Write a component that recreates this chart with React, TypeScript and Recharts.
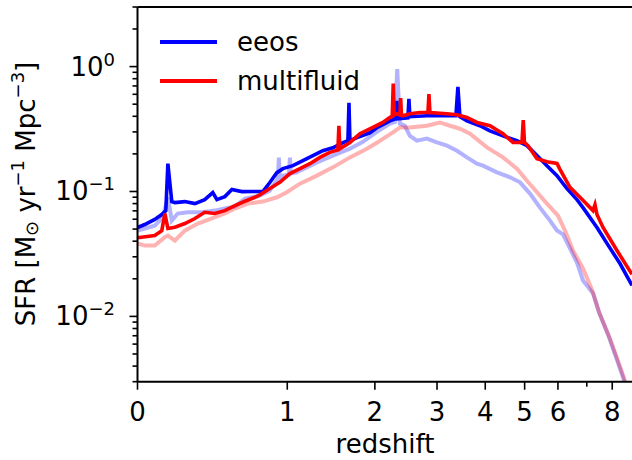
import React from "react";
import { LineChart, Line, XAxis, YAxis, ReferenceLine, Legend } from "recharts";

// redshift / SFR traces
const eeosRedshift = [0, 0.034, 0.083, 0.119, 0.14, 0.151, 0.172, 0.189, 0.245, 0.304, 0.365, 0.417, 0.444, 0.498, 0.548, 0.621, 0.722, 0.786, 0.845, 0.906, 0.96, 1.053, 1.19, 1.294, 1.358, 1.47, 1.588, 1.648, 1.661, 1.673, 1.761, 1.932, 2.028, 2.217, 2.307, 2.322, 2.338, 2.496, 2.512, 2.528, 2.817, 3.11, 3.365, 3.406, 3.447, 3.594, 3.878, 4.11, 4.428, 4.79, 5.065, 5.353, 5.653, 5.969, 6.299, 6.645, 6.861, 7.386, 7.783, 8.328, 8.862];
const eeosSfr = [0.0515, 0.0544, 0.0597, 0.0654, 0.0703, 0.167, 0.083, 0.0815, 0.083, 0.08, 0.0861, 0.098, 0.0861, 0.091, 0.1036, 0.0998, 0.1, 0.0998, 0.118, 0.1416, 0.1524, 0.161, 0.183, 0.201, 0.212, 0.224, 0.246, 0.255, 0.513, 0.255, 0.27, 0.295, 0.324, 0.368, 0.382, 0.532, 0.382, 0.389, 0.552, 0.397, 0.404, 0.404, 0.404, 0.689, 0.397, 0.368, 0.336, 0.306, 0.279, 0.255, 0.233, 0.194, 0.161, 0.134, 0.1055, 0.0861, 0.0743, 0.0515, 0.0384, 0.0265, 0.0177];

const multifluidRedshift = [0, 0.083, 0.119, 0.135, 0.151, 0.189, 0.245, 0.304, 0.365, 0.43, 0.498, 0.569, 0.644, 0.722, 0.762, 0.845, 0.932, 1.025, 1.121, 1.221, 1.326, 1.436, 1.528, 1.54, 1.551, 1.673, 1.799, 1.972, 2.113, 2.217, 2.251, 2.266, 2.281, 2.322, 2.368, 2.38, 2.393, 2.416, 2.528, 2.696, 2.835, 2.853, 2.871, 3.188, 3.386, 3.594, 3.812, 4.11, 4.428, 4.685, 4.926, 4.962, 4.995, 5.093, 5.353, 5.653, 5.969, 6.053, 6.401, 6.752, 7.232, 7.309, 7.386, 7.625, 8.199, 8.862];
const multifluidSfr = [0.0426, 0.0445, 0.0486, 0.0666, 0.0506, 0.0518, 0.0554, 0.0608, 0.0682, 0.0666, 0.0703, 0.0771, 0.0835, 0.0899, 0.094, 0.1055, 0.1184, 0.139, 0.1524, 0.167, 0.1875, 0.2056, 0.215, 0.336, 0.22, 0.247, 0.29, 0.326, 0.357, 0.392, 0.4, 0.731, 0.41, 0.419, 0.41, 0.56, 0.41, 0.404, 0.419, 0.429, 0.429, 0.602, 0.429, 0.419, 0.411, 0.392, 0.357, 0.336, 0.29, 0.247, 0.247, 0.373, 0.247, 0.233, 0.183, 0.173, 0.168, 0.1524, 0.108, 0.0899, 0.0703, 0.0785, 0.0654, 0.0515, 0.0337, 0.0217];

// faded runs (no legend entry)
const eeosFadedRedshift = [0, 0.083, 0.124, 0.151, 0.172, 0.205, 0.262, 0.347, 0.43, 0.498, 0.569, 0.644, 0.762, 0.845, 0.915, 0.924, 0.932, 0.96, 1.015, 1.025, 1.034, 1.091, 1.121, 1.294, 1.47, 1.673, 1.838, 2.028, 2.217, 2.291, 2.327, 2.368, 2.447, 2.528, 2.644, 2.817, 2.998, 3.188, 3.386, 3.594, 3.812, 3.947, 4.278, 4.608, 4.873, 5.15, 5.442, 5.747, 5.969, 6.165, 6.401, 6.645, 6.861, 7.232, 7.467, 7.868, 8.203, 8.504, 8.727];
const eeosFadedSfr = [0.0487, 0.0533, 0.0622, 0.0899, 0.0585, 0.0666, 0.0682, 0.0682, 0.0703, 0.073, 0.0757, 0.0877, 0.0927, 0.1016, 0.127, 0.1866, 0.127, 0.134, 0.1365, 0.1866, 0.139, 0.1423, 0.147, 0.171, 0.194, 0.22, 0.25, 0.3, 0.35, 0.36, 0.953, 0.349, 0.335, 0.279, 0.255, 0.265, 0.247, 0.233, 0.212, 0.1875, 0.167, 0.161, 0.1423, 0.13, 0.1184, 0.0962, 0.0743, 0.0585, 0.0487, 0.0453, 0.035, 0.027, 0.0194, 0.0153, 0.0108, 0.0068, 0.00446, 0.00308, 0.00248];

const multifluidFadedRedshift = [0, 0.034, 0.083, 0.135, 0.151, 0.189, 0.245, 0.322, 0.411, 0.498, 0.569, 0.667, 0.786, 0.906, 0.996, 1.121, 1.294, 1.47, 1.673, 1.891, 2.028, 2.262, 2.368, 2.528, 2.817, 3.054, 3.246, 3.447, 3.659, 4.04, 4.428, 4.79, 5.065, 5.353, 5.653, 6.001, 6.232, 6.505, 6.861, 7.232, 7.467, 7.868, 8.203, 8.504, 8.727];
const multifluidFadedSfr = [0.0384, 0.0369, 0.0369, 0.0431, 0.0444, 0.0405, 0.0486, 0.0554, 0.0608, 0.0666, 0.073, 0.08, 0.083, 0.0899, 0.0986, 0.1156, 0.134, 0.156, 0.1875, 0.22, 0.246, 0.297, 0.326, 0.326, 0.336, 0.357, 0.336, 0.318, 0.29, 0.2255, 0.1875, 0.1524, 0.122, 0.0986, 0.08, 0.0641, 0.0486, 0.0337, 0.0242, 0.0156, 0.0108, 0.00694, 0.00463, 0.0032, 0.00234];

// axis ticks (x ticks are redshift; axis is log(1+z))
const redshiftTicks = [0, 1, 2, 3, 4, 5, 6, 7, 8];
const redshiftLabelled = [0, 1, 2, 3, 4, 5, 6, 8];
const sfrMajorTicks = [0.01, 0.1, 1];
const sfrTicks = [0.003, 0.004, 0.005, 0.006, 0.007, 0.008, 0.009, 0.01, 0.02, 0.03, 0.04, 0.05, 0.06, 0.07, 0.08, 0.09, 0.1, 0.2, 0.3, 0.4, 0.5, 0.6, 0.7, 0.8, 0.9, 1, 2, 3];

const FONT = "DejaVu Sans";

const toRows = (zs: number[], sfr: number[]) => zs.map((z, i) => ({ x: 1 + z, sfr: sfr[i] }));

const XTick = (props: any) => {
  const { x, y, payload } = props;
  const z = Math.round(payload.value - 1);
  const labelled = redshiftLabelled.includes(z);
  return (
    <g>
      <line x1={x} x2={x} y1={y} y2={y + (labelled ? 8 : 5)} stroke="#000" strokeWidth={1.6} />
      {labelled && (
        <text x={x} y={y + 39} textAnchor="middle" fontFamily={FONT} fontSize={26} fill="#000">
          {z}
        </text>
      )}
    </g>
  );
};

const YTick = (props: any) => {
  const { x, y, payload } = props;
  const v = payload.value;
  const major = sfrMajorTicks.some((t) => Math.abs(t - v) < 1e-9);
  const exp = Math.round(Math.log10(v));
  return (
    <g>
      <line x1={x} x2={x - (major ? 8 : 5)} y1={y} y2={y} stroke="#000" strokeWidth={1.6} />
      {major && (
        <text x={x - 22.5} y={y + 9} textAnchor="end" fontFamily={FONT} fontSize={26} fill="#000">
          10
          <tspan dy={-10} fontSize={18}>
            {exp === 0 ? "0" : `\u2212${-exp}`}
          </tspan>
        </text>
      )}
    </g>
  );
};

const XLabel = () => (
  <text x={385} y={453} textAnchor="middle" fontFamily={FONT} fontSize={26} fill="#000">
    redshift
  </text>
);

const YLabel = () => (
  <text transform="translate(35,194) rotate(-90)" textAnchor="middle" fontFamily={FONT} fontSize={26} fill="#000">
    SFR [M
    <tspan dy={3} fontSize={18}>{"\u2299"}</tspan>
    <tspan dy={-3}> yr</tspan>
    <tspan dy={-11} fontSize={18}>{"\u22121"}</tspan>
    <tspan dy={11}> Mpc</tspan>
    <tspan dy={-11} fontSize={18}>{"\u22123"}</tspan>
    <tspan dy={11}>]</tspan>
  </text>
);

const LegendBox = () => (
  <svg width={632} height={110} style={{ display: "block" }}>
    <line x1={160} x2={217} y1={42} y2={42} stroke="#0000ff" strokeWidth={4} />
    <text x={237} y={51} fontFamily={FONT} fontSize={26} fill="#000">eeos</text>
    <line x1={160} x2={217} y1={81} y2={81} stroke="#ff0000" strokeWidth={4} />
    <text x={237} y={90} fontFamily={FONT} fontSize={26} fill="#000">multifluid</text>
  </svg>
);

export default function App() {
  const eeos = toRows(eeosRedshift, eeosSfr);
  const multifluid = toRows(multifluidRedshift, multifluidSfr);
  const eeosFaded = toRows(eeosFadedRedshift, eeosFadedSfr);
  const multifluidFaded = toRows(multifluidFadedRedshift, multifluidFadedSfr);

  return (
    <div style={{ position: "absolute", left: 0, top: 0, background: "#fff" }}>
      <LineChart width={632} height={460} margin={{ top: 7, right: 0, bottom: 0, left: 0 }}>
        <XAxis
          dataKey="x"
          type="number"
          scale="log"
          domain={[1, 9.862]}
          allowDataOverflow
          ticks={redshiftTicks.map((z) => 1 + z)}
          interval={0}
          tick={<XTick />}
          tickLine={false}
          tickSize={0}
          tickMargin={0}
          height={78.3}
          axisLine={{ stroke: "#000", strokeWidth: 2 }}
          label={<XLabel />}
        />
        <YAxis
          type="number"
          scale="log"
          domain={[0.003, 3]}
          allowDataOverflow
          ticks={sfrTicks}
          interval={0}
          tick={<YTick />}
          tickLine={false}
          tickSize={0}
          tickMargin={0}
          width={137.5}
          axisLine={{ stroke: "#000", strokeWidth: 2 }}
          label={<YLabel />}
        />
        <ReferenceLine y={3} stroke="#000" strokeWidth={2} />
        <Line data={eeosFaded} dataKey="sfr" stroke="#0000ff" strokeOpacity={0.3} strokeWidth={4} dot={false} isAnimationActive={false} />
        <Line data={multifluidFaded} dataKey="sfr" stroke="#ff0000" strokeOpacity={0.3} strokeWidth={4} dot={false} isAnimationActive={false} />
        <Line data={eeos} dataKey="sfr" name="eeos" stroke="#0000ff" strokeWidth={3.6} dot={false} isAnimationActive={false} />
        <Line data={multifluid} dataKey="sfr" name="multifluid" stroke="#ff0000" strokeWidth={3.6} dot={false} isAnimationActive={false} />
        <Legend
          layout="vertical"
          align="center"
          verticalAlign="middle"
          content={<LegendBox />}
          wrapperStyle={{ position: "absolute", left: 0, top: 0, width: 632, height: 110, pointerEvents: "none" }}
        />
      </LineChart>
    </div>
  );
}
